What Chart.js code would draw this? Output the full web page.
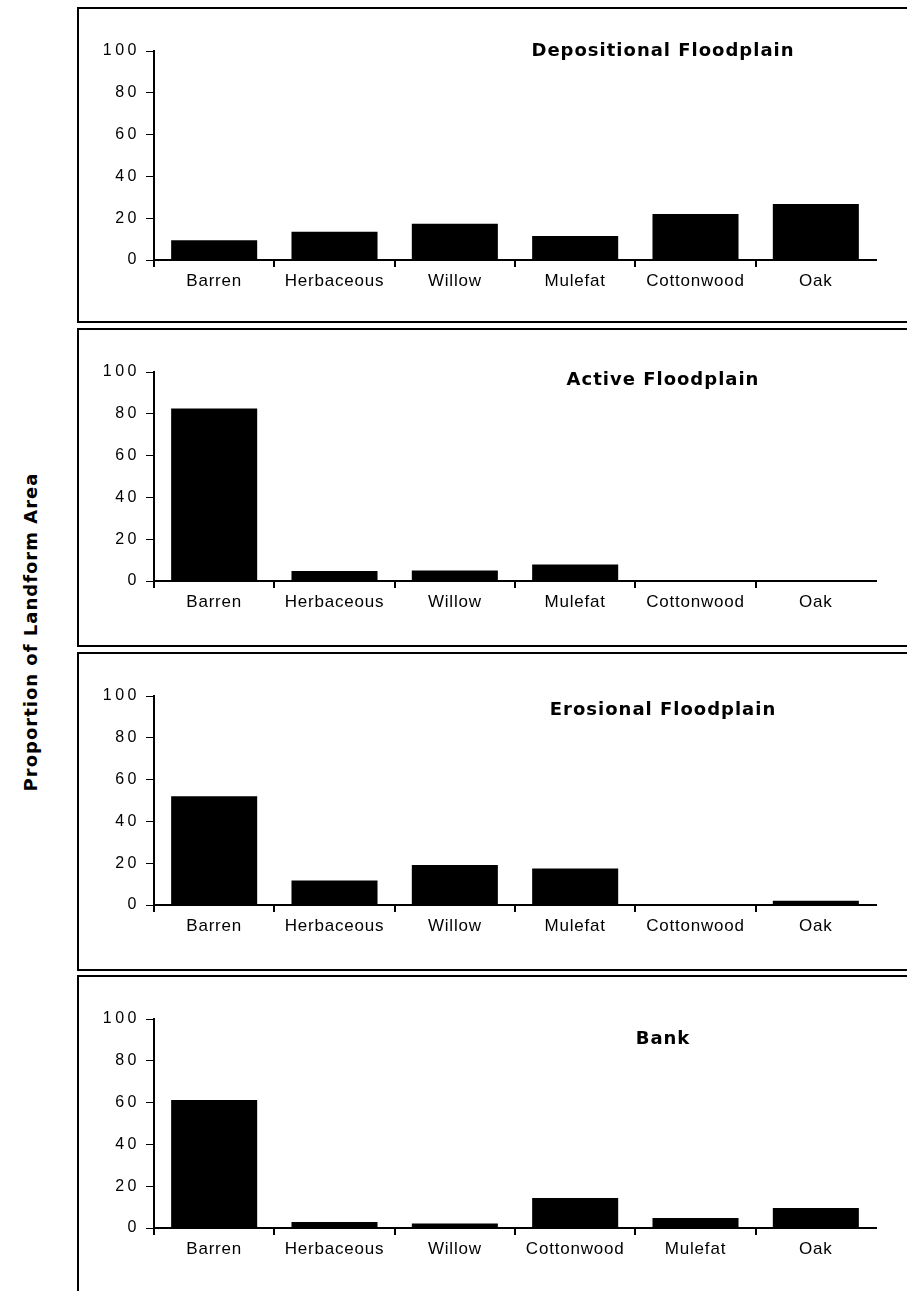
<!DOCTYPE html>
<html>
<head>
<meta charset="utf-8">
<script src="https://cdn.jsdelivr.net/npm/chart.js@4.4.1/dist/chart.umd.min.js"></script>
<style>
  html, body { margin: 0; padding: 0; background: #fff; }
  body { position: relative; width: 907px; height: 1291px; overflow: hidden; }
  .panel { position: absolute; left: 77px; width: 850px; border: 2px solid #000; box-sizing: border-box; }
  canvas { position: absolute; left: 79px; }
  #ytitle {
    position: absolute; left: 30px; top: 632px;
    transform: translate(-50%, -50%) rotate(-90deg);
    font: bold 18px "DejaVu Sans", sans-serif; letter-spacing: 1px;
    white-space: nowrap; color: #000;
  }
</style>
</head>
<body>
<div id="ytitle">Proportion of Landform Area</div>
<script>
// values (percent of landform area)
const categories = ['Barren', 'Herbaceous', 'Willow', 'Mulefat', 'Cottonwood', 'Oak'];
const bankCategories = ['Barren', 'Herbaceous', 'Willow', 'Cottonwood', 'Mulefat', 'Oak'];

const depositional = [9.5, 13.5, 17.3, 11.5, 22, 26.8];
const active = [82.5, 4.8, 5, 7.9, 0, 0];
const erosional = [52, 11.7, 19.1, 17.5, 0, 2];
const bank = [61.3, 2.9, 2.1, 14.4, 4.8, 9.6];

const yTicks = [0, 20, 40, 60, 80, 100];

const panelTitles = ['Depositional Floodplain', 'Active Floodplain', 'Erosional Floodplain', 'Bank'];

// page layout (px): box top, box height, title offset below the 100 tick
const layout = [
  { top: 7,   height: 316, titleDy: 0 },
  { top: 328, height: 319, titleDy: 8 },
  { top: 652, height: 319, titleDy: 14 },
  { top: 975, height: 330, titleDy: 20 }
];

const panels = [
  { labels: categories, values: depositional },
  { labels: categories, values: active },
  { labels: categories, values: erosional },
  { labels: bankCategories, values: bank }
];

// title drawn inside the plot area, right of centre
const panelTitle = {
  id: 'panelTitle',
  afterDraw(chart, args, opts) {
    const { ctx, chartArea } = chart;
    ctx.save();
    ctx.font = 'bold 18px "DejaVu Sans"';
    ctx.letterSpacing = '1px';
    ctx.fillStyle = '#000';
    ctx.textAlign = 'center';
    ctx.textBaseline = 'middle';
    ctx.fillText(opts.text, chartArea.left + 0.705 * (chartArea.right - chartArea.left), chartArea.top + opts.dy);
    ctx.restore();
  }
};

// the original typesetting has loose tracking on the axis labels
const tracking = {
  id: 'tracking',
  beforeDraw(chart) {
    Object.values(chart.scales).forEach(s => {
      if (s.$tracked) return;
      s.$tracked = true;
      const draw = s.drawLabels;
      s.drawLabels = function (area) {
        const c = this.ctx;
        c.save();
        c.letterSpacing = this.axis === 'y' ? '3.5px' : '0.8px';
        draw.call(this, area);
        c.restore();
      };
    });
  }
};

const PLOT_TOP = 44, PLOT_H = 209, X_AXIS_H = 40;

panels.forEach((p, i) => {
  const box = document.createElement('div');
  box.className = 'panel';
  box.style.top = layout[i].top + 'px';
  box.style.height = layout[i].height + 'px';
  document.body.appendChild(box);

  const canvas = document.createElement('canvas');
  canvas.width = 828;
  canvas.height = layout[i].height;
  canvas.style.top = layout[i].top + 'px';
  document.body.appendChild(canvas);

  new Chart(canvas.getContext('2d'), {
    type: 'bar',
    data: {
      labels: p.labels,
      datasets: [{
        data: p.values,
        backgroundColor: '#000',
        borderWidth: 0,
        barPercentage: 0.715,
        categoryPercentage: 1
      }]
    },
    plugins: [panelTitle, tracking],
    options: {
      responsive: false,
      animation: false,
      layout: {
        padding: { left: 0, right: 31, top: PLOT_TOP, bottom: layout[i].height - PLOT_TOP - PLOT_H - X_AXIS_H }
      },
      plugins: {
        legend: { display: false },
        tooltip: { enabled: false },
        panelTitle: { text: panelTitles[i], dy: layout[i].titleDy }
      },
      scales: {
        x: {
          afterFit: s => { s.height = X_AXIS_H; },
          grid: {
            offset: true,
            drawOnChartArea: false,
            drawTicks: true,
            tickLength: 7,
            lineWidth: 2,
            color: c => (c.tick ? '#000' : 'rgba(0,0,0,0)')
          },
          border: { display: true, color: '#000', width: 2, z: 1 },
          ticks: {
            color: '#000',
            padding: 4,
            maxRotation: 0,
            font: { family: '"Liberation Sans", Arial, sans-serif', size: 17 }
          }
        },
        y: {
          min: 0,
          max: 100,
          afterFit: s => { s.width = 75; },
          afterBuildTicks: s => { s.ticks = yTicks.map(v => ({ value: v })); },
          grid: {
            drawOnChartArea: false,
            drawTicks: true,
            tickLength: 8,
            lineWidth: 1,
            color: '#000'
          },
          border: { display: true, color: '#000', width: 2, z: 1 },
          ticks: {
            color: '#000',
            padding: 6,
            font: { family: '"Liberation Sans", Arial, sans-serif', size: 16 }
          }
        }
      }
    }
  });
});
</script>
</body>
</html>
